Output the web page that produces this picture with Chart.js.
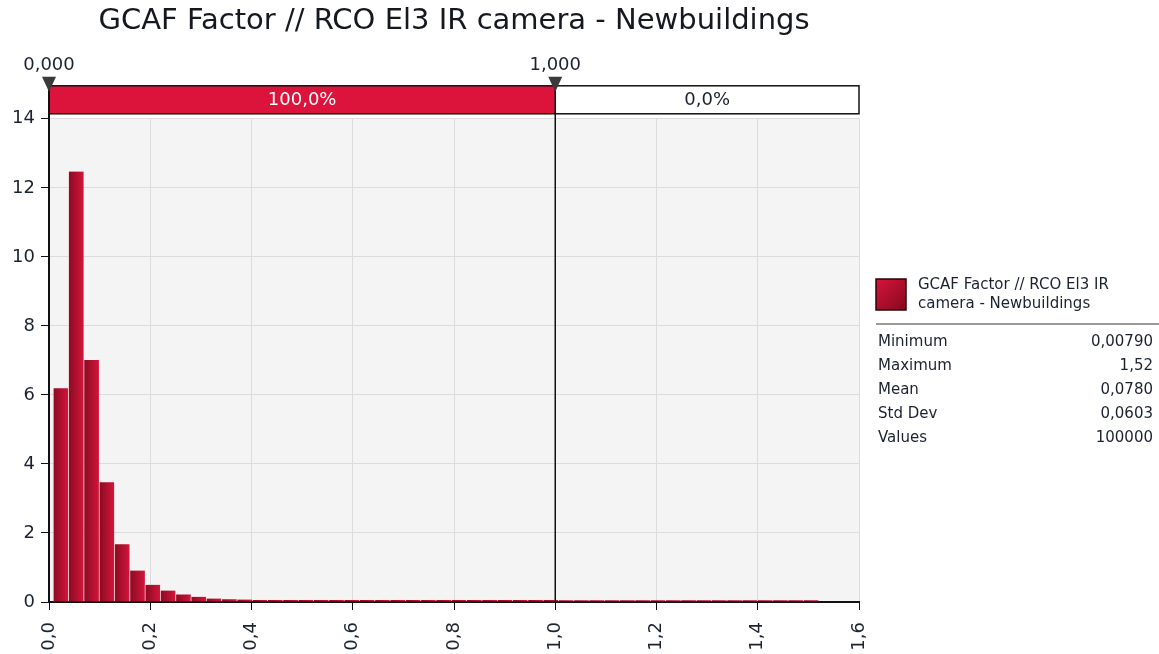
<!DOCTYPE html>
<html>
<head>
<meta charset="utf-8">
<title>GCAF Factor histogram</title>
<script src="https://cdn.jsdelivr.net/npm/chart.js@4.4.1/dist/chart.umd.min.js"></script>
<style>
  html, body { margin: 0; padding: 0; background: #fff; }
  #wrap { width: 1159px; height: 654px; position: relative; }
</style>
</head>
<body>
<div id="wrap"><canvas id="hist"></canvas></div>
<script>
// ── Data ─────────────────────────────────────────────────────────────
const TITLE = 'GCAF Factor // RCO El3 IR camera - Newbuildings';
const SERIES_NAME = ['GCAF Factor // RCO El3 IR', 'camera - Newbuildings'];

// histogram range = sample min / max, 50 equal bins
const HIST_MIN  = 0.0079;
const HIST_MAX  = 1.52;
const DENSITY = [
  6.19, 12.47, 7.01, 3.47, 1.67, 0.91, 0.50, 0.33, 0.22, 0.15,
  0.10, 0.08, 0.07, 0.06, 0.06, 0.06, 0.06, 0.06, 0.06, 0.06,
  0.06, 0.06, 0.06, 0.06, 0.06, 0.06, 0.06, 0.06, 0.06, 0.06,
  0.06, 0.06, 0.06, 0.05, 0.05, 0.05, 0.05, 0.05, 0.05, 0.05,
  0.05, 0.05, 0.05, 0.05, 0.05, 0.05, 0.05, 0.05, 0.05, 0.05,
];

const X_TICKS = [0, 0.2, 0.4, 0.6, 0.8, 1.0, 1.2, 1.4, 1.6];
const Y_TICKS = [0, 2, 4, 6, 8, 10, 12, 14];

// delimiter bar on top of the plot
const DELIMS       = [0, 1];
const DELIM_LABELS = ['0,000', '1,000'];
const SEGMENT_PCT  = ['100,0%', '0,0%'];

const STAT_LABELS = ['Minimum', 'Maximum', 'Mean', 'Std Dev', 'Values'];
const STAT_VALUES = ['0,00790', '1,52', '0,0780', '0,0603', '100000'];

// ── Helpers ──────────────────────────────────────────────────────────
const FONT = '"DejaVu Sans", Verdana, sans-serif';
const comma = v => String(v).replace('.', ',');

const binW = (HIST_MAX - HIST_MIN) / DENSITY.length;
const points = DENSITY.map((h, i) => ({ x: HIST_MIN + binW * (i + 0.5), y: h }));

// each bar shades dark → crimson from left to right
function barFill(ctx) {
  const chart = ctx.chart;
  const xs = chart.scales.x;
  if (!xs || !ctx.parsed) return '#b81030';
  const x0 = xs.getPixelForValue(ctx.parsed.x - binW / 2);
  const x1 = xs.getPixelForValue(ctx.parsed.x + binW / 2);
  if (!isFinite(x0) || !isFinite(x1)) return '#b81030';
  const g = chart.ctx.createLinearGradient(x0, 0, x1, 0);
  g.addColorStop(0, '#880b22');
  g.addColorStop(1, '#d4143a');
  return g;
}

// ── Plugins ──────────────────────────────────────────────────────────
const plotBg = {
  id: 'plotBg',
  beforeDraw(chart) {
    const { ctx, chartArea: a } = chart;
    ctx.save();
    ctx.fillStyle = '#f4f4f4';
    ctx.fillRect(a.left, a.top, a.right - a.left, a.bottom - a.top);
    ctx.restore();
  },
};

const delimBar = {
  id: 'delimBar',
  afterDatasetsDraw(chart) {
    const { ctx, chartArea: a, scales: { x } } = chart;
    const top = a.top - 33, bot = a.top - 5;
    const px = DELIMS.map(v => x.getPixelForValue(v));
    const edges = [px[0], px[1], a.right];
    ctx.save();
    // segments
    ctx.fillStyle = '#dc143c';
    ctx.fillRect(edges[0], top, edges[1] - edges[0], bot - top);
    ctx.fillStyle = '#ffffff';
    ctx.fillRect(edges[1], top, edges[2] - edges[1], bot - top);
    ctx.strokeStyle = '#111';
    ctx.lineWidth = 1.5;
    ctx.strokeRect(edges[0], top, edges[2] - edges[0], bot - top);

    ctx.font = '18px ' + FONT;
    ctx.textAlign = 'center';
    ctx.textBaseline = 'middle';
    ctx.fillStyle = '#ffffff';
    ctx.fillText(SEGMENT_PCT[0], (edges[0] + edges[1]) / 2, (top + bot) / 2 + 1);
    ctx.fillStyle = '#1b2230';
    ctx.fillText(SEGMENT_PCT[1], (edges[1] + edges[2]) / 2, (top + bot) / 2 + 1);

    // delimiter lines, markers and labels
    px.forEach((p, i) => {
      ctx.strokeStyle = '#111';
      ctx.lineWidth = i === 0 ? 2 : 1.5;
      ctx.beginPath();
      ctx.moveTo(p, top - 6);
      ctx.lineTo(p, a.bottom);
      ctx.stroke();
      ctx.fillStyle = '#3a3a3a';
      ctx.beginPath();
      ctx.moveTo(p - 7, top - 9);
      ctx.lineTo(p + 7, top - 9);
      ctx.lineTo(p, top + 6);
      ctx.closePath();
      ctx.fill();
      ctx.fillStyle = '#1b2230';
      ctx.textBaseline = 'alphabetic';
      ctx.fillText(DELIM_LABELS[i], p, top - 16);
    });
    ctx.restore();
  },
};

const statsPanel = {
  id: 'statsPanel',
  afterDraw(chart) {
    const { ctx } = chart;
    const left = 876, right = 1153;
    ctx.save();
    // swatch
    const g = ctx.createLinearGradient(876, 278, 906, 310);
    g.addColorStop(0, '#d8143a');
    g.addColorStop(1, '#86091f');
    ctx.fillStyle = g;
    ctx.fillRect(876, 279, 30, 31);
    ctx.strokeStyle = '#2a0508';
    ctx.lineWidth = 1.5;
    ctx.strokeRect(876, 279, 30, 31);

    ctx.font = '15px ' + FONT;
    ctx.fillStyle = '#1b2230';
    ctx.textBaseline = 'middle';
    ctx.textAlign = 'left';
    SERIES_NAME.forEach((t, i) => ctx.fillText(t, 918, 285 + i * 19));

    ctx.strokeStyle = '#9a9a9a';
    ctx.lineWidth = 2;
    ctx.beginPath();
    ctx.moveTo(left, 324);
    ctx.lineTo(1159, 324);
    ctx.stroke();

    STAT_LABELS.forEach((lab, i) => {
      const y = 342 + i * 24;
      ctx.textAlign = 'left';
      ctx.fillText(lab, 878, y);
      ctx.textAlign = 'right';
      ctx.fillText(STAT_VALUES[i], right, y);
    });
    ctx.restore();
  },
};

// ── Chart ────────────────────────────────────────────────────────────
new Chart(document.getElementById('hist'), {
  type: 'bar',
  data: {
    datasets: [{
      label: SERIES_NAME.join(' '),
      data: points,
      backgroundColor: barFill,
      borderColor: 'rgba(255,190,200,0.45)',
      borderWidth: { left: 1, right: 0, top: 0, bottom: 0 },
      borderSkipped: false,
      barPercentage: 1,
      categoryPercentage: 1,
    }],
  },
  options: {
    responsive: true,
    maintainAspectRatio: false,
    animation: false,
    layout: { padding: { left: 0, right: 300, top: 0, bottom: 0 } },
    plugins: {
      legend: { display: false },
      tooltip: { enabled: false },
      title: {
        display: true,
        text: TITLE,
        fullSize: false,
        color: '#15181f',
        font: { family: FONT, size: 29, weight: 'normal' },
        padding: { top: 4, bottom: 80 },
      },
    },
    scales: {
      x: {
        type: 'linear',
        offset: false,
        min: X_TICKS[0],
        max: X_TICKS[X_TICKS.length - 1],
        afterBuildTicks: s => { s.ticks = X_TICKS.map(v => ({ value: v })); },
        afterFit: s => { s.height = 52; },
        ticks: {
          color: '#1b2230',
          font: { family: FONT, size: 18 },
          minRotation: 90,
          maxRotation: 90,
          padding: 12,
          callback: v => comma(v.toFixed(1)),
        },
        grid: { color: '#dcdcdc', tickColor: '#111', tickLength: 8, offset: false },
        border: { color: '#111', width: 2 },
      },
      y: {
        min: Y_TICKS[0],
        max: Y_TICKS[Y_TICKS.length - 1],
        afterBuildTicks: s => { s.ticks = Y_TICKS.map(v => ({ value: v })); },
        afterFit: s => { s.width = 49; },
        ticks: {
          color: '#1b2230',
          font: { family: FONT, size: 18 },
          padding: 6,
        },
        grid: { color: '#dcdcdc', tickColor: '#111', tickLength: 8 },
        border: { color: '#111', width: 2 },
      },
    },
  },
  plugins: [plotBg, delimBar, statsPanel],
});
</script>
</body>
</html>
